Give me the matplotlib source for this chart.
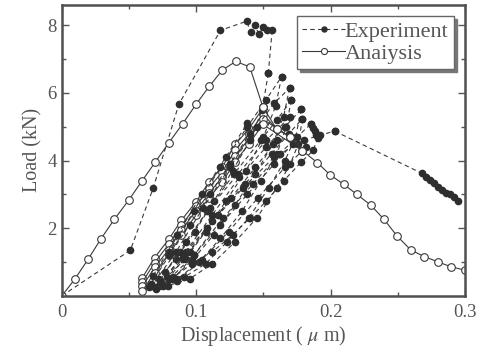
import matplotlib.pyplot as plt

plt.rcParams['font.family'] = ['Liberation Serif', 'DejaVu Serif']
plt.rcParams['mathtext.fontset'] = 'stix'

# analysis envelope (open circles, solid)
ana_x = [0, 0.0096, 0.0195, 0.029, 0.039, 0.0496, 0.0595, 0.0696, 0.0795, 0.0899,
         0.0998, 0.1096, 0.1195, 0.1294, 0.1398, 0.1496, 0.160, 0.170, 0.179, 0.190,
         0.1998, 0.2096, 0.2195, 0.2299, 0.2397, 0.2496, 0.2595, 0.2696, 0.2795, 0.2894, 0.2998]
ana_y = [0, 0.49, 1.08, 1.68, 2.26, 2.82, 3.39, 3.96, 4.52, 5.09,
         5.66, 6.19, 6.68, 6.93, 6.77, 5.58, 4.92, 4.70, 4.29, 3.94,
         3.57, 3.30, 3.00, 2.68, 2.26, 1.76, 1.36, 1.16, 1.01, 0.86, 0.76]

# analysis unloading/reloading branches
ana_cyc_x = [0.060, 0.069, 0.0795, 0.089, 0.0998, 0.1096, 0.1195, 0.129, 0.139, 0.1496]
ana_cyc_y = [
    [0.54, 1.13, 1.67, 2.24, 2.78, 3.37, 3.82, 4.48, 4.93, 5.55],
    [0.41, 0.98, 1.52, 2.09, 2.65, 3.20, 3.67, 4.31, 4.78, 5.38],
    [0.28, 0.84, 1.37, 1.94, 2.52, 3.03, 3.52, 4.14, 4.63, 5.22],
    [0.15, 0.69, 1.22, 1.79, 2.39, 2.90, 3.37, 3.97, 4.48, 5.07],
]
ana_cyc_end_x = [0.1496, 0.160, 0.170, 0.179]
ana_cyc_end_y = [5.58, 4.92, 4.70, 4.29]

# experiment envelope up to first unloading
exp_env_x = [0, 0.051, 0.068, 0.087, 0.118, 0.1375, 0.1405, 0.1435, 0.1465, 0.150, 0.1525, 0.1565, 0.1536]
exp_env_y = [0, 1.35, 3.19, 5.66, 7.85, 8.12, 7.80, 8.00, 7.75, 7.95, 7.85, 7.87, 6.58]

# experiment cycles (unload then reload)
exp_cycles = [
    ([0.1536, 0.149, 0.140, 0.127, 0.113, 0.099, 0.085, 0.072, 0.065,
      0.080, 0.098, 0.118, 0.138, 0.152, 0.1635],
     [6.58, 5.5, 4.6, 3.7, 2.8, 1.9, 1.1, 0.5, 0.25,
      1.3, 2.5, 3.8, 5.0, 5.8, 6.48]),
    ([0.1635, 0.159, 0.150, 0.137, 0.122, 0.107, 0.092, 0.078, 0.067,
      0.085, 0.105, 0.125, 0.145, 0.158, 0.1694],
     [6.48, 5.6, 4.7, 3.7, 2.8, 1.9, 1.1, 0.55, 0.3,
      1.3, 2.6, 3.8, 5.0, 5.7, 6.14]),
    ([0.1694, 0.165, 0.157, 0.144, 0.129, 0.113, 0.097, 0.082, 0.069,
      0.088, 0.108, 0.128, 0.148, 0.160, 0.1706],
     [6.14, 5.3, 4.5, 3.6, 2.7, 1.8, 1.05, 0.5, 0.25,
      1.3, 2.5, 3.6, 4.6, 5.2, 5.78]),
    ([0.1706, 0.167, 0.160, 0.148, 0.134, 0.118, 0.102, 0.086, 0.072,
      0.092, 0.112, 0.132, 0.152, 0.166, 0.178],
     [5.78, 5.0, 4.2, 3.4, 2.5, 1.7, 1.0, 0.5, 0.3,
      1.3, 2.4, 3.5, 4.4, 5.0, 5.51]),
    ([0.178, 0.174, 0.166, 0.154, 0.139, 0.123, 0.107, 0.091, 0.075,
      0.095, 0.116, 0.136, 0.156, 0.169, 0.179],
     [5.51, 4.7, 4.0, 3.2, 2.3, 1.6, 0.95, 0.55, 0.3,
      1.3, 2.4, 3.3, 4.2, 4.8, 5.24]),
    ([0.179, 0.176, 0.170, 0.160, 0.145, 0.129, 0.112, 0.095, 0.079,
      0.098, 0.120, 0.142, 0.162, 0.175, 0.185],
     [5.24, 4.5, 3.9, 3.2, 2.3, 1.6, 0.95, 0.5, 0.3,
      1.2, 2.3, 3.3, 4.2, 4.7, 5.07]),
    ([0.185, 0.1865, 0.188, 0.189, 0.1905, 0.187, 0.178, 0.165, 0.152, 0.140,
      0.127, 0.112, 0.097, 0.083, 0.070,
      0.090, 0.112, 0.135, 0.158, 0.180, 0.192, 0.203],
     [5.07, 4.97, 4.87, 4.77, 4.68, 4.3, 3.95, 3.4, 2.8, 2.3,
      1.8, 1.3, 0.95, 0.55, 0.2,
      1.2, 2.2, 3.2, 4.1, 4.6, 4.75, 4.87]),
]

# extra partial branches inside the cycle fan
exp_extra = [
    ([0.066, 0.080, 0.095, 0.110, 0.125, 0.140], [0.35, 1.2, 2.1, 3.0, 3.9, 4.8]),
    ([0.074, 0.090, 0.108, 0.126, 0.144, 0.160], [0.4, 1.1, 2.0, 2.9, 3.8, 4.6]),
    ([0.080, 0.098, 0.118, 0.138, 0.158, 0.172], [0.5, 1.2, 2.1, 3.0, 3.9, 4.5]),
    ([0.086, 0.104, 0.124, 0.146, 0.166, 0.182], [0.45, 1.05, 1.9, 2.9, 3.8, 4.4]),
    ([0.068, 0.086, 0.104, 0.122, 0.138], [0.6, 1.8, 3.0, 4.1, 5.1]),
    ([0.077, 0.092, 0.110, 0.131, 0.152, 0.170], [0.7, 1.6, 2.6, 3.6, 4.6, 5.3]),
]

# experiment softening tail
exp_tail_x = [0.203, 0.268, 0.271, 0.274, 0.277, 0.280, 0.283, 0.286, 0.289, 0.292, 0.295]
exp_tail_y = [4.87, 3.62, 3.52, 3.42, 3.33, 3.22, 3.12, 3.05, 3.00, 2.92, 2.80]

lc = '#3a3a3a'
exp_kw = dict(color=lc, ls=(0, (4, 3)), lw=0.8, marker='o', ms=4.5,
              mfc='#2e2e2e', mec='#2e2e2e')
ana_kw = dict(color=lc, ls='-', lw=0.8, marker='o', ms=5.5,
              mfc='white', mec='#3a3a3a', mew=0.8)

fig = plt.figure(figsize=(4.87, 3.56), dpi=100)
ax = fig.add_axes([0.127, 0.169, 0.828, 0.817])

for cy, ex, ey in zip(ana_cyc_y, ana_cyc_end_x, ana_cyc_end_y):
    ax.plot(ana_cyc_x + [ex], cy + [ey], **ana_kw)

for cx, cy in exp_cycles + exp_extra:
    ax.plot(cx, cy, **exp_kw)
ax.plot(exp_env_x, exp_env_y, **exp_kw)
ax.plot(exp_tail_x, exp_tail_y, **exp_kw)
ax.plot(ana_x, ana_y, **ana_kw)

# legend handles
h1, = ax.plot([], [], label='Experiment', **exp_kw)
h2, = ax.plot([], [], label='Anaiysis', **ana_kw)
leg = ax.legend([h1, h2], ['Experiment', 'Anaiysis'], loc='upper right', fontsize=16,
                frameon=True, fancybox=False, shadow={'color': '#777', 'alpha': 1},
                handlelength=1.9, handletextpad=0.0, borderpad=0.25, labelspacing=0.05,
                borderaxespad=0.5, labelcolor='#555', markerscale=0.8)
leg.get_frame().set_edgecolor('#666')
leg.get_frame().set_linewidth(1.0)

ax.set_xlim(0, 0.3)
ax.set_ylim(0, 8.6)
ax.set_xticks([0, 0.1, 0.2, 0.3])
ax.set_xticklabels(['0', '0.1', '0.2', '0.3'])
ax.set_xticks([0.05, 0.15, 0.25], minor=True)
ax.set_yticks([2, 4, 6, 8])
ax.set_yticks([1, 3, 5, 7], minor=True)
ax.tick_params(which='both', direction='in', top=True, right=True, colors='#555',
               labelsize=13.5, labelcolor='#555')
ax.tick_params(which='major', length=5, width=1)
ax.tick_params(which='minor', length=3, width=1)
ax.tick_params(axis='x', pad=6)
for s in ax.spines.values():
    s.set_linewidth(1.8)
    s.set_color('#505050')

ax.set_xlabel('Displacement ( $\\mu$ m)', fontsize=14.5, color='#555', labelpad=2)
ax.set_ylabel('Load (kN)', fontsize=14.5, color='#555', labelpad=4)

fig.savefig('out.png', dpi=100)
